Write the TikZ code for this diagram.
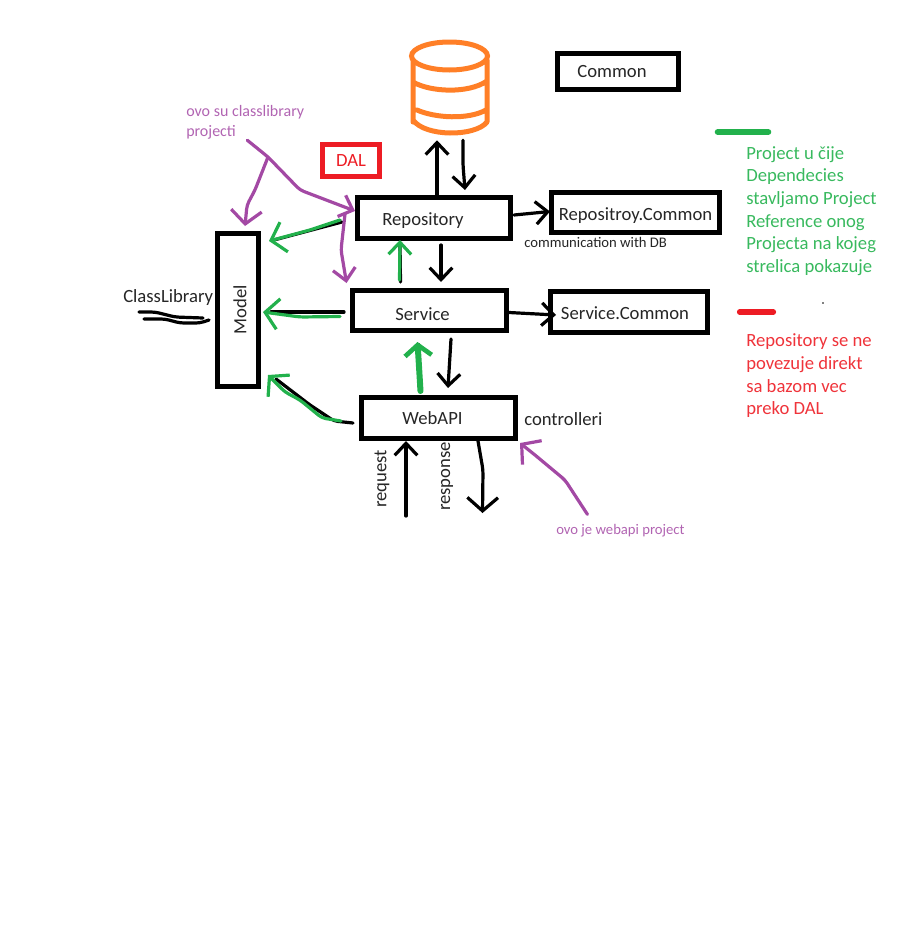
\documentclass[tikz,border=0pt]{standalone}
\usepackage{fontspec}
\setmainfont{Carlito}
\usepackage{tikz}
\usetikzlibrary{arrows.meta, calc}
\definecolor{dbOrange}{HTML}{FF7F27}
\definecolor{handGreen}{HTML}{22B14C}
\definecolor{handRed}{HTML}{ED1C24}
\definecolor{handPurple}{HTML}{A349A4}
\definecolor{inkGray}{HTML}{262626}
\newcommand{\lowertext}[2]{\raisebox{-#1}[0pt][0pt]{#2}}
\tikzset{
  box/.style={rectangle, draw=black, line width=3.75pt, inner sep=0pt, align=center, text=inkGray, font=\fontsize{14}{16}\selectfont},
  caption/.style={inner sep=0pt, align=left, text=inkGray, font=\fontsize{14}{16}\selectfont},
  tinycaption/.style={inner sep=0pt, align=left, text=inkGray, font=\fontsize{11}{13}\selectfont},
  purplenote/.style={inner sep=0pt, align=left, text=handPurple!85, font=\fontsize{12}{15}\selectfont},
  purplesmall/.style={purplenote, font=\fontsize{11}{13}\selectfont},
  legend/.style={inner sep=0pt, align=left, anchor=west, font=\fontsize{14}{17}\selectfont},
  stroke/.style={line width=2.4pt, line cap=round, line join=round, rounded corners=3pt},
  arrow/.style={stroke, -{Straight Barb[length=9pt,width=17pt,line width=2.4pt]}},
  bigarrow/.style={stroke, -{Straight Barb[length=10pt,width=23pt,line width=2.4pt]}}
}
\begin{document}
\begin{tikzpicture}[x=0.75pt, y=-0.75pt]
        \useasboundingbox (0,0) rectangle (912,932);

        % Baza
        \node (db) [minimum width=60.75pt, minimum height=70.5pt, inner sep=0pt] at (449.5,87) {};
        \draw [dbOrange, line width=3.75pt, line cap=round]
            (449.5,56) ellipse [x radius=38, y radius=14]
            (413,60) -- (413,122) (487,60) -- (487,122)
            (413,82) .. controls (430,92) and (468,94) .. (487,81)
            (417,110) .. controls (435,118) and (468,120) .. (486,110)
            (413,120) .. controls (425,137) and (475,137) .. (487,122);

        % Kutije
        \node (common) [box, minimum width=90.75pt, minimum height=27pt] at (618,71.5) {Common\hspace*{9pt}};
        \node (dal) [box, draw=handRed, text=handRed, minimum width=42.75pt, minimum height=24pt] at (351,160.5) {DAL};
        \node (repo) [box, minimum width=114.75pt, minimum height=30.75pt] at (434,218) {\lowertext{5.25pt}{Repository}\hspace*{16.5pt}};
        \node (repocommon) [box, minimum width=126pt, minimum height=30pt] at (635.5,212.5) {\lowertext{6pt}{Repositroy.Common}};
        \node (service) [box, minimum width=115.5pt, minimum height=30pt] at (429.5,310.5) {\lowertext{7.5pt}{Service}\hspace*{10.5pt}};
        \node (servicecommon) [box, minimum width=117.75pt, minimum height=30.75pt] at (629,312) {\lowertext{5.25pt}{Service.Common}\hspace*{6pt}};
        \node (webapi) [box, minimum width=115.5pt, minimum height=30.75pt] at (438.5,418) {WebAPI\hspace*{9pt}};
        \node (model) [box, minimum width=30.75pt, minimum height=114.75pt] at (238,310) {\hspace*{3pt}\rotatebox{90}{Model}};

        % Natpisi
        \node (classlib) [caption, anchor=west] at (123,297.5) {ClassLibrary};
        \node (commdb) [tinycaption, anchor=west] at (524,242) {communication with DB};
        \node (controlleri) [caption, anchor=west] at (524,419) {controlleri};
        \node (request) [caption, rotate=90] at (382,479) {request};
        \node (response) [caption, rotate=90] at (447,476.5) {response};
        \node (noteclass) [purplenote, anchor=west] at (186,122) {ovo su classlibrary\\projecti};
        \node (noteweb) [purplesmall, anchor=west] at (556,531) {ovo je webapi project};

        % Legenda
        \node (greenmark) [minimum width=37.5pt, minimum height=0pt, inner sep=0pt] at (743,132) {};
        \node (redmark) [minimum width=25pt, minimum height=0pt, inner sep=0pt] at (756.5,312) {};
        \draw [handGreen, line width=4.5pt, line cap=round] (greenmark.west) -- (greenmark.east);
        \draw [handRed, line width=4pt, line cap=round] (redmark.west) -- (redmark.east);
        \node (legendgreen) [legend, text=handGreen!90] at (746,211) {Project u čije\\Dependecies\\stavljamo Project\\Reference onog\\Projecta na kojeg\\strelica pokazuje};
        \node (legendred) [legend, text=handRed!90] at (746,376) {Repository se ne\\povezuje direkt\\sa bazom vec\\preko DAL};
        \fill [black] (823,303) circle (0.6pt);

        % Strelice crne
        \draw [arrow] (repo.north -| 437,0) -- ($(db.south)+(-12.5,6)$);
        \draw [arrow] ($(db.south)+(13.5,6)$) -- (463,165) -- ($(repo.north)+(31,-5)$);
        \draw [arrow] ($(repo.south)+(7,4)$) -- ($(service.north)+(11.5,-6)$);
        \draw [arrow] ($(repo.east)+(1,-3)$) -- ($(repocommon.west)+(1,-1)$);
        \draw [arrow] ($(service.east)+(0,2)$) -- ($(servicecommon.west)+(8,3)$);
        \draw [arrow] ($(service.south)+(21.5,6)$) -- ($(webapi.north)+(9.5,-7)$);
        \draw [arrow] ($(webapi.south)+(-32.5,75)$) -- (webapi.south -| 406,0);
        \draw [bigarrow] ($(webapi.south)+(39.5,0)$) -- (483,470) -- ($(webapi.south)+(44,72)$);

        % ClassLibrary linije
        \draw [stroke] (139,312) -- (155,312) -- (175,317) -- ($(model.west)+(-12,8)$);
        \draw [stroke] (144,319) -- (165,319) -- (180,323) -- (200,323) -- ($(model.west)+(-6,10)$);

        % Strelice zelene
        \draw [stroke] ($(service.north)+(-29,-6)$) -- ($(repo.south)+(-34,3)$);
        \draw [arrow, handGreen] ($(service.north)+(-30,-8)$) -- ($(repo.south)+(-34,-1)$);
        \draw [stroke, line width=3pt] ($(webapi.north)+(-19,-8)$) -- ($(service.south)+(-11,12)$);
        \draw [bigarrow, handGreen, line width=4.5pt, arrows={-Straight Barb[length=8pt,width=20pt,line width=3.5pt]}] ($(webapi.north)+(-18,-4)$) -- ($(service.south)+(-12,9)$);
        \draw [stroke] ($(repo.west)+(-13,4)$) -- ($(model.east)+(13,-70)$);
        \draw [bigarrow, handGreen] ($(repo.west)+(-15,2)$) -- (310,230) -- ($(model.east)+(8,-69)$);
        \draw [stroke] ($(service.west)+(-6,1.5)$) -- ($(model.east)+(10,2)$);
        \draw [bigarrow, handGreen] ($(service.west)+(-10,6)$) -- (300,317) -- ($(model.east)+(2,2)$);
        \draw [stroke] ($(webapi.west)+(-6,5)$) -- (334,421) -- (310,405) -- ($(model.south)+(38,-10)$);
        \draw [bigarrow, handGreen] ($(webapi.west)+(-18,3)$) -- (322,418) -- (300,400) -- (285,392) -- ($(model.south)+(30,-14)$);

        % Strelice ljubicaste
        \draw [arrow, handPurple] ($(noteclass.south)+(2,1)$) -- (268,157) -- (300,190) -- ($(repo.west)+(0,-7)$);
        \draw [bigarrow, handPurple] (268,157) -- (255,190) -- (247,205) -- ($(model.north)+(7,-5)$);
        \draw [arrow, handPurple] ($(repo.west)+(-10,-4)$) -- (341,250) -- ($(service.north)+(-83,-5)$);
        \draw [bigarrow, handPurple] ($(noteweb.north)+(-33,-10)$) -- (565,480) -- (535,455) -- ($(webapi.east)+(2,25)$);
\end{tikzpicture}
\end{document}
